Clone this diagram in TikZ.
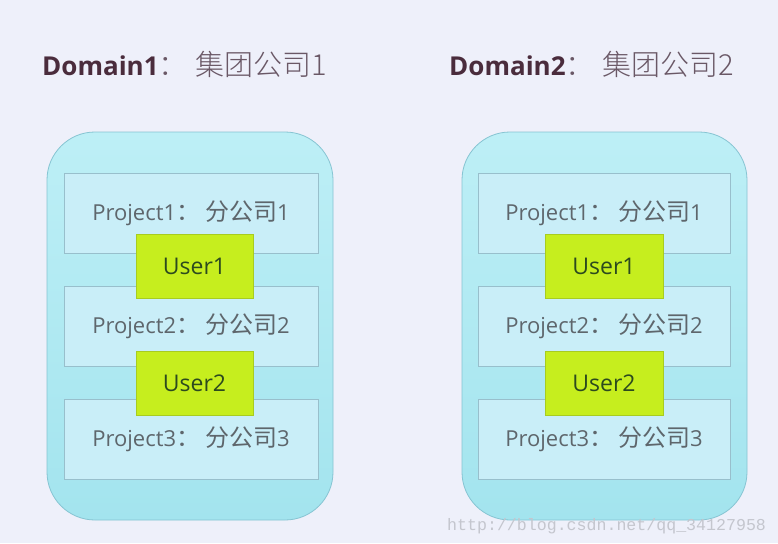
\documentclass[tikz,border=0pt]{standalone}
\usepackage{fontspec}
\setmainfont{Open Sans}
\newfontfamily\cjk{Noto Sans CJK SC}
\newfontfamily\cjklight{Noto Sans CJK SC Light}
\newfontfamily\wmfont{Liberation Mono}
\definecolor{bg}{HTML}{EEF0FA}
\definecolor{contTop}{HTML}{BDEFF6}
\definecolor{contBot}{HTML}{A3E4EE}
\definecolor{contEdge}{HTML}{86C4D2}
\definecolor{projFill}{HTML}{C9EEF8}
\definecolor{projEdge}{HTML}{98BFCC}
\definecolor{userFill}{HTML}{C6EE1E}
\definecolor{userEdge}{HTML}{A8CC20}
\definecolor{titleDark}{HTML}{4A2C3C}
\definecolor{titleLight}{HTML}{6A5866}
\definecolor{projText}{HTML}{5E666C}
\definecolor{userText}{HTML}{2C4A1E}
\definecolor{wmText}{HTML}{C4C6CE}
\tikzset{
  container/.style={draw=contEdge, line width=0.8pt, top color=contTop, bottom color=contBot,
    rounded corners=48pt, minimum height=388pt, inner sep=0pt},
  projbox/.style={draw=projEdge, line width=0.6pt, fill=projFill, minimum width=254pt,
    minimum height=80pt, inner sep=0pt, text=projText, font=\fontsize{22}{25}\selectfont},
  userbox/.style={draw=userEdge, line width=0.5pt, fill=userFill, minimum width=117pt,
    minimum height=64pt, inner sep=0pt, text=userText, font=\fontsize{23}{26}\selectfont},
  titletext/.style={anchor=base west, inner sep=0pt},
}
\newcommand{\projlabel}[2]{Project#1{\cjk\fontsize{24}{26}\selectfont ：\hspace{5pt}分公司}#2}
\newcommand{\domlabel}[1]{{\bfseries\fontsize{26}{30}\selectfont\color{titleDark}Domain#1}{\cjklight\fontsize{29}{32}\selectfont\color{titleLight}：\hspace{8pt}集团公司#1}}
\begin{document}
\begin{tikzpicture}[x=1pt,y=-1pt]
\fill[bg] (0,0) rectangle (778,543);
\useasboundingbox (0,0) rectangle (778,543);
% titles
\node[titletext] (t1) at (42,75) {\domlabel{1}};
\node[titletext] (t2) at (449,75) {\domlabel{2}};
% left domain
\node[container, minimum width=286pt] (c1) at (190,326) {};
\node[projbox] (p11) at (191,213) {\projlabel{1}{1}};
\node[projbox] (p12) at (191,326) {\projlabel{2}{2}};
\node[projbox] (p13) at (191,439) {\projlabel{3}{3}};
\node[userbox] (u11) at (194.5,266) {User1};
\node[userbox] (u12) at (194.5,383) {User2};
% right domain
\node[container, minimum width=285pt] (c2) at (604.5,326) {};
\node[projbox, minimum width=252pt] (p21) at (604,213) {\projlabel{1}{1}};
\node[projbox, minimum width=252pt] (p22) at (604,326) {\projlabel{2}{2}};
\node[projbox, minimum width=252pt] (p23) at (604,439) {\projlabel{3}{3}};
\node[userbox, minimum width=118pt] (u21) at (604,266) {User1};
\node[userbox, minimum width=118pt] (u22) at (604,383) {User2};
% watermark
\node[anchor=base west, inner sep=0pt, text=wmText, font=\wmfont\fontsize{16.6}{18}\selectfont] (wm) at (447,530) {http://blog.csdn.net/qq\_34127958};
\end{tikzpicture}
\end{document}
